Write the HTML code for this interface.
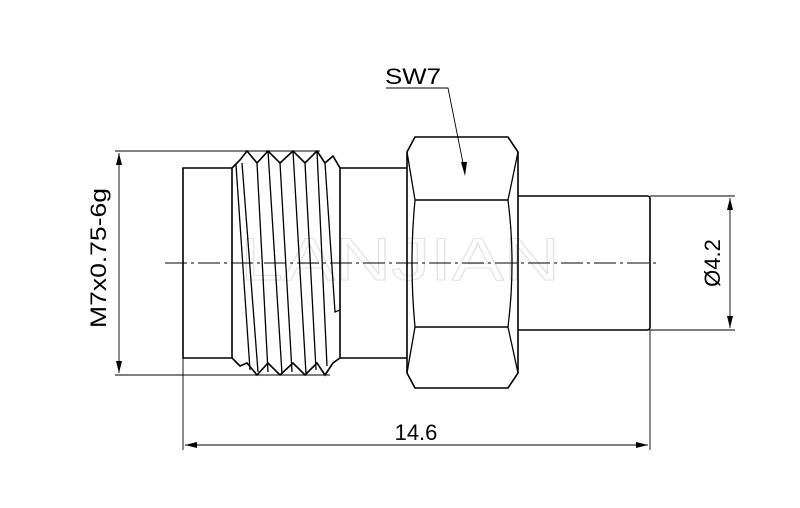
<!DOCTYPE html>
<html><head><style>body{margin:0;background:#fff}svg{display:block}</style></head><body>
<svg width="800" height="508" viewBox="0 0 800 508" xmlns="http://www.w3.org/2000/svg" font-family="Liberation Sans, sans-serif">
<defs><marker id="a" markerWidth="12" markerHeight="6" refX="12" refY="3" orient="auto" markerUnits="userSpaceOnUse"><path d="M0,0 L12,3 L0,6 Z" fill="#000"/></marker></defs>
<text x="400" y="280" font-size="60" fill="none" stroke="#e2e2e2" stroke-width="1" text-anchor="middle" textLength="320" lengthAdjust="spacingAndGlyphs">LANJIAN</text>
<g fill="none" stroke="#000" stroke-width="1.6">
<path d="M232,168 H183 V358 H232"/>
<path d="M232,168 L240,160 L247,151 L257,163 L268,151 L280,163 L293,151 L305,163 L317,151 L325,163 L333,156 L340,168 V358 L333,363 L325,375 L317,363 L305,375 L293,363 L280,375 L268,363 L257,375 L247,363 L240,366 L232,358 Z"/>
<path d="M236,165 L250,370 M242,163 L258,372 M257,163 L268,372 M268,151 L282,374 M280,163 L292,372 M293,151 L306,374 M305,163 L316,370 M317,151 L327,366 M325,163 L335,312 L340,310" stroke-width="1.3"/>
<path d="M340,168 H407 M340,358 H407"/>
<path d="M415,137 H508 L518,152 V373 L508,388 H415 L407,373 V152 Z"/>
<path d="M415,200 H508 M415,327 H508"/>
<path d="M407,152 L415,200 Q409,263 415,327 L407,373" stroke-width="1.3"/>
<path d="M518,152 L508,200 Q516,263 508,327 L518,373" stroke-width="1.3"/>
<path d="M518,196 H647 Q650,196 650,199 V327 Q650,330 647,330 H518"/>
</g>
<g stroke="#000" stroke-width="0.9" fill="none">
<path d="M165,263 H660" stroke-dasharray="22,4,3,4"/>
<path d="M115,151 H320 M115,375 H330"/>
<path d="M119,263 V153" marker-end="url(#a)"/><path d="M119,263 V373" marker-end="url(#a)"/>
<path d="M650,196 H735 M650,330 H735"/>
<path d="M730,263 V198" marker-end="url(#a)"/><path d="M730,263 V328" marker-end="url(#a)"/>
<path d="M183,358 V450 M650,330 V450"/>
<path d="M416,445 H185" marker-end="url(#a)"/><path d="M416,445 H648" marker-end="url(#a)"/>
<path d="M386,88 H448 L465,173" />
<path d="M461,162 L465,176 L467,162 Z" fill="#000" stroke="none"/>
</g>
<g font-size="22" fill="#000">
<text x="385" y="84" textLength="56" lengthAdjust="spacingAndGlyphs">SW7</text>
<text x="416" y="440" text-anchor="middle">14.6</text>
<text transform="translate(106,258) rotate(-90)" text-anchor="middle" textLength="140" lengthAdjust="spacingAndGlyphs">M7x0.75-6g</text>
<text transform="translate(720,263) rotate(-90)" text-anchor="middle">Ø4.2</text>
</g>
</svg>
</body></html>
